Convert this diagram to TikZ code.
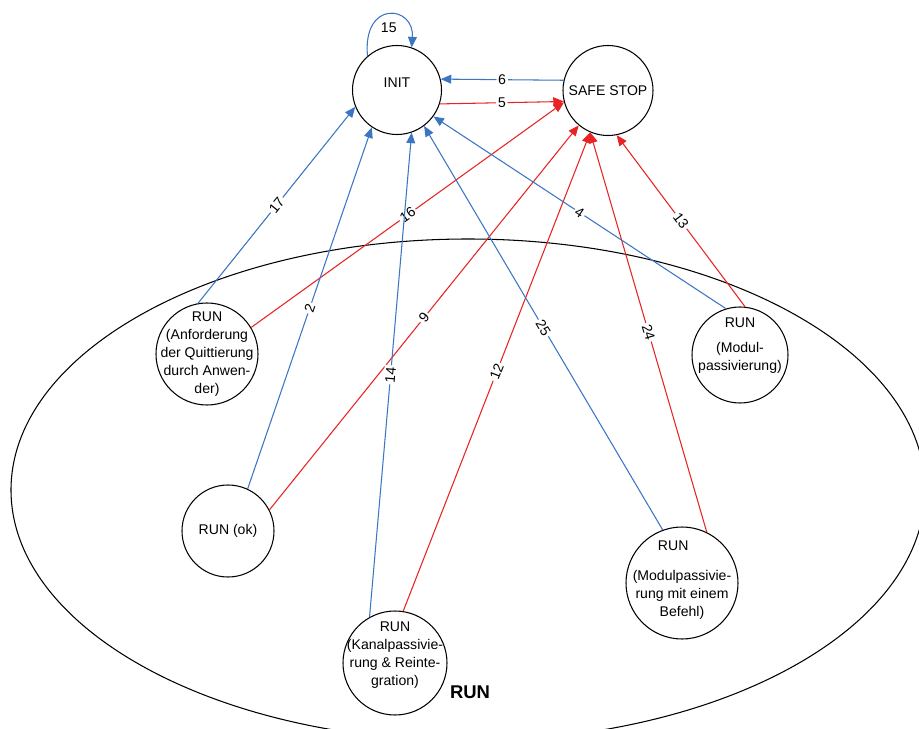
\documentclass[tikz,border=0pt]{standalone}
\usepackage{fontspec}
\setmainfont{Liberation Sans}
\usepackage{tikz}
\usetikzlibrary{arrows.meta,shapes.geometric}
\definecolor{edgeblue}{RGB}{59,118,196}
\definecolor{edgered}{RGB}{232,35,35}

\begin{document}
\begin{tikzpicture}[line width=0.6pt,>={Triangle[length=6pt,width=5pt]}]
	\tikzstyle{st}=[circle,draw=black,fill=white,inner sep=0pt]
	\tikzstyle{txt}=[align=center,inner sep=0pt,font=\fontsize{8}{10.2}\selectfont]
	\tikzstyle{blueedge}=[->,color=edgeblue];
	\tikzstyle{rededge}=[->,color=edgered];
	\tikzstyle{lbl}=[fill=white,text=black,inner sep=1pt,sloped,font=\fontsize{8}{9}\selectfont];
	\useasboundingbox (0,0) rectangle (18.38,-14.58);
	\fill[white] (0,0) rectangle (18.38,-14.58);
	% RUN area
	\node[ellipse,draw=black,minimum width=18.28cm,minimum height=10.04cm,inner sep=0pt](zone) at (9.36,-9.80){};
	\node[font=\fontsize{10.5}{12}\selectfont\bfseries](zone-t) at (9.40,-13.84){RUN};
	% states
	\node[st,minimum size=1.78cm](init) at (7.94,-1.80){};
	\node[txt](init-t) at ([yshift=0.14cm]init){INIT};
	\node[st,minimum size=1.80cm](stop) at (12.16,-1.81){};
	\node[txt](stop-t) at (stop){SAFE STOP};
	\node[st,minimum size=2.04cm](run-1) at (4.14,-7.08){};
	\node[txt](run-1-t) at (run-1){RUN\\(Anforderung\\der Quittierung\\durch Anwen-\\der)};
	\node[st,minimum size=1.84cm](run-2) at (4.56,-10.62){};
	\node[txt](run-2-t) at (run-2){RUN (ok)};
	\node[st,minimum size=2.08cm](run-3) at (7.90,-13.26){};
	\node[txt](run-3-t) at ([yshift=0.16cm]run-3){RUN\\(Kanalpassivie-\\rung \& Reinte-\\gration)};
	\node[st,minimum size=2.24cm](run-4) at (13.64,-11.66){};
	\node[txt](run-4-t) at ([yshift=0.06cm]run-4){RUN\hspace*{10pt}\\[6.8pt](Modulpassivie-\\rung mit einem\\Befehl)};
	\node[st,minimum size=1.92cm](run-5) at (14.80,-7.10){};
	\node[txt](run-5-t) at ([yshift=0.18cm]run-5){RUN\\[4pt](Modul-\\passivierung)};
	% transitions
	\draw[blueedge] (init.131) .. controls +(-0.1,1.14) and +(0.06,0.84) .. node[pos=0.5,below=1pt,font=\fontsize{8}{9}\selectfont,text=black]{15} (init.71);
	\draw[blueedge] (stop.167) -- node[lbl]{6} (init.14);
	\draw[rededge] (init.-18) -- node[lbl]{5} (stop.194);
	\draw[blueedge] (run-1.100) -- node[lbl]{17} (init.202);
	\draw[rededge] (run-1.31) -- node[lbl]{16} (stop.195);
	\draw[blueedge] (run-2.65) -- node[lbl]{2} (init.236);
	\draw[rededge] (run-2.27) -- node[lbl]{9} (stop.230);
	\draw[blueedge] (run-3.119) -- node[lbl]{14} (init.-71);
	\draw[rededge] (run-3.81) -- node[lbl]{12} (stop.247);
	\draw[blueedge] (run-4.110) -- node[lbl]{25} (init.-53);
	\draw[rededge] (run-4.64) -- node[lbl]{24} (stop.247);
	\draw[blueedge] (run-5.107) -- node[lbl]{4} (init.-36);
	\draw[rededge] (run-5.84) -- node[lbl]{13} (stop.-79);
\end{tikzpicture}
\end{document}
